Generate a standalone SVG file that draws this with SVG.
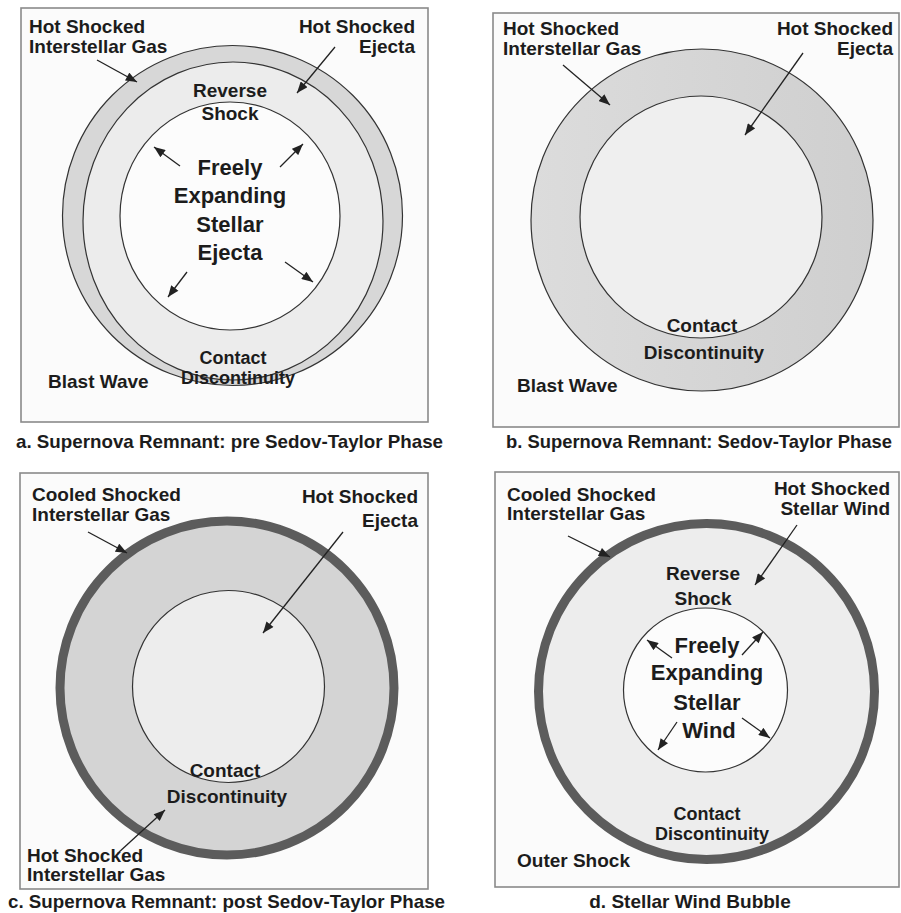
<svg xmlns="http://www.w3.org/2000/svg" width="901" height="913" viewBox="0 0 901 913">
<style>
text{font-family:"Liberation Sans",Arial,sans-serif;font-weight:bold;fill:#1c1c1c}
.l{font-size:19px}
.s{font-size:18px}
.b{font-size:22px;text-anchor:middle}
.c{font-size:19px}
.c2{font-size:18.4px}
.m{text-anchor:middle}
.r{text-anchor:end}
.frame{fill:#fbfbfb;stroke:#8a8a8a;stroke-width:1.6}
.ln{stroke:#333;stroke-width:1.2}
.ring{fill:none;stroke:#5c5c5c;stroke-width:9}
.arr{stroke:#222;stroke-width:1.3;fill:none;marker-end:url(#ah)}
</style>
<defs>
<marker id="ah" viewBox="0 0 10 8" refX="10" refY="4" markerWidth="12" markerHeight="9" orient="auto" markerUnits="userSpaceOnUse"><path d="M0,0 L10,4 L0,8 z" fill="#222"/></marker>
<linearGradient id="gb" x1="0" y1="0" x2="1" y2="0"><stop offset="0" stop-color="#dcdcdc"/><stop offset="1" stop-color="#cfcfcf"/></linearGradient>
</defs>
<rect width="901" height="913" fill="#ffffff"/>

<g id="panel-a">
<rect class="frame" x="21" y="8" width="407" height="414"/>
<g id="a-blastwave"><circle class="ln" cx="232.5" cy="215.5" r="170" fill="#d7d7d7"/></g>
<g id="a-contact"><ellipse class="ln" cx="233" cy="221" rx="150" ry="159" fill="#ececec"/></g>
<g id="a-reverse"><ellipse class="ln" cx="230" cy="216" rx="110" ry="114" fill="#fcfcfc"/></g>
<text class="l" x="29" y="33">Hot Shocked</text>
<text class="l" x="29" y="53">Interstellar Gas</text>
<text class="l r" x="415" y="33">Hot Shocked</text>
<text class="l r" x="415" y="53">Ejecta</text>
<text class="l m" x="230" y="97">Reverse</text>
<text class="l m" x="230" y="120">Shock</text>
<text class="b" x="230" y="175">Freely</text>
<text class="b" x="230" y="203">Expanding</text>
<text class="b" x="230" y="232">Stellar</text>
<text class="b" x="230" y="260">Ejecta</text>
<text class="s m" x="233" y="364">Contact</text>
<text class="s m" x="238" y="384">Discontinuity</text>
<text class="l" x="48" y="388">Blast Wave</text>
<text class="c" x="16" y="448" textLength="427" lengthAdjust="spacingAndGlyphs">a. Supernova Remnant: pre Sedov-Taylor Phase</text>
</g>

<g id="panel-b">
<rect class="frame" x="493" y="13" width="406" height="414"/>
<g id="b-blastwave"><circle class="ln" cx="702" cy="220" r="171" fill="url(#gb)"/></g>
<g id="b-contact"><circle class="ln" cx="701" cy="217" r="121" fill="#efefef"/></g>
<text class="l" x="503" y="35">Hot Shocked</text>
<text class="l" x="503" y="55">Interstellar Gas</text>
<text class="l r" x="893" y="35">Hot Shocked</text>
<text class="l r" x="893" y="55">Ejecta</text>
<text class="l m" x="702" y="332">Contact</text>
<text class="l m" x="704" y="359">Discontinuity</text>
<text class="l" x="517" y="392">Blast Wave</text>
<text class="c2" x="506" y="448">b. Supernova Remnant: Sedov-Taylor Phase</text>
</g>

<g id="panel-c">
<rect class="frame" x="20" y="473" width="408" height="416"/>
<g id="c-shell"><circle cx="227" cy="688" r="167" fill="#d4d4d4"/><circle class="ring" cx="227" cy="688" r="167"/></g>
<g id="c-contact"><circle class="ln" cx="228.5" cy="686.5" r="96" fill="#ededed"/></g>
<text class="l" x="32" y="501">Cooled Shocked</text>
<text class="l" x="32" y="521">Interstellar Gas</text>
<text class="l r" x="418" y="503">Hot Shocked</text>
<text class="l r" x="418" y="527">Ejecta</text>
<text class="l m" x="225" y="777">Contact</text>
<text class="l m" x="227" y="803">Discontinuity</text>
<text class="l" x="27" y="862">Hot Shocked</text>
<text class="l" x="27" y="881">Interstellar Gas</text>
<text class="c" x="8" y="908" textLength="437" lengthAdjust="spacingAndGlyphs">c. Supernova Remnant: post Sedov-Taylor Phase</text>
</g>

<g id="panel-d">
<rect class="frame" x="495" y="472" width="404" height="415"/>
<g id="d-shell"><circle cx="706.5" cy="691.5" r="168" fill="#ededed"/><circle class="ring" cx="706.5" cy="691.5" r="168"/></g>
<g id="d-reverse"><circle class="ln" cx="705.5" cy="690" r="82" fill="#fcfcfc"/></g>
<text class="l" x="507" y="501">Cooled Shocked</text>
<text class="l" x="507" y="520">Interstellar Gas</text>
<text class="l r" x="890" y="495">Hot Shocked</text>
<text class="l r" x="890" y="515">Stellar Wind</text>
<text class="l m" x="703" y="580">Reverse</text>
<text class="l m" x="703" y="605">Shock</text>
<text class="b" x="707" y="653">Freely</text>
<text class="b" x="707" y="680">Expanding</text>
<text class="b" x="707" y="710">Stellar</text>
<text class="b" x="709" y="738">Wind</text>
<text class="s m" x="707" y="820">Contact</text>
<text class="s m" x="712" y="840">Discontinuity</text>
<text class="l" x="517" y="867">Outer Shock</text>
<text class="c m" x="690" y="908">d. Stellar Wind Bubble</text>
</g>

<g id="connectors">
<line class="arr" x1="97" y1="60" x2="137" y2="82"/>
<line class="arr" x1="335" y1="47" x2="297" y2="93"/>
<line class="arr" x1="180" y1="166" x2="154" y2="147"/>
<line class="arr" x1="280" y1="167" x2="303" y2="144"/>
<line class="arr" x1="187" y1="272" x2="168" y2="297"/>
<line class="arr" x1="285" y1="262" x2="313" y2="282"/>
<line class="arr" x1="563" y1="65" x2="610" y2="105"/>
<line class="arr" x1="803" y1="53" x2="745" y2="135"/>
<line class="arr" x1="88" y1="532" x2="127" y2="553"/>
<line class="arr" x1="343" y1="532" x2="263" y2="633"/>
<line class="arr" x1="118" y1="853" x2="165" y2="810"/>
<line class="arr" x1="568" y1="536" x2="610" y2="557"/>
<line class="arr" x1="797" y1="525" x2="755" y2="585"/>
<line class="arr" x1="672" y1="658" x2="647" y2="640"/>
<line class="arr" x1="742" y1="655" x2="763" y2="632"/>
<line class="arr" x1="677" y1="722" x2="658" y2="750"/>
<line class="arr" x1="742" y1="718" x2="770" y2="738"/>
</g>
</svg>
